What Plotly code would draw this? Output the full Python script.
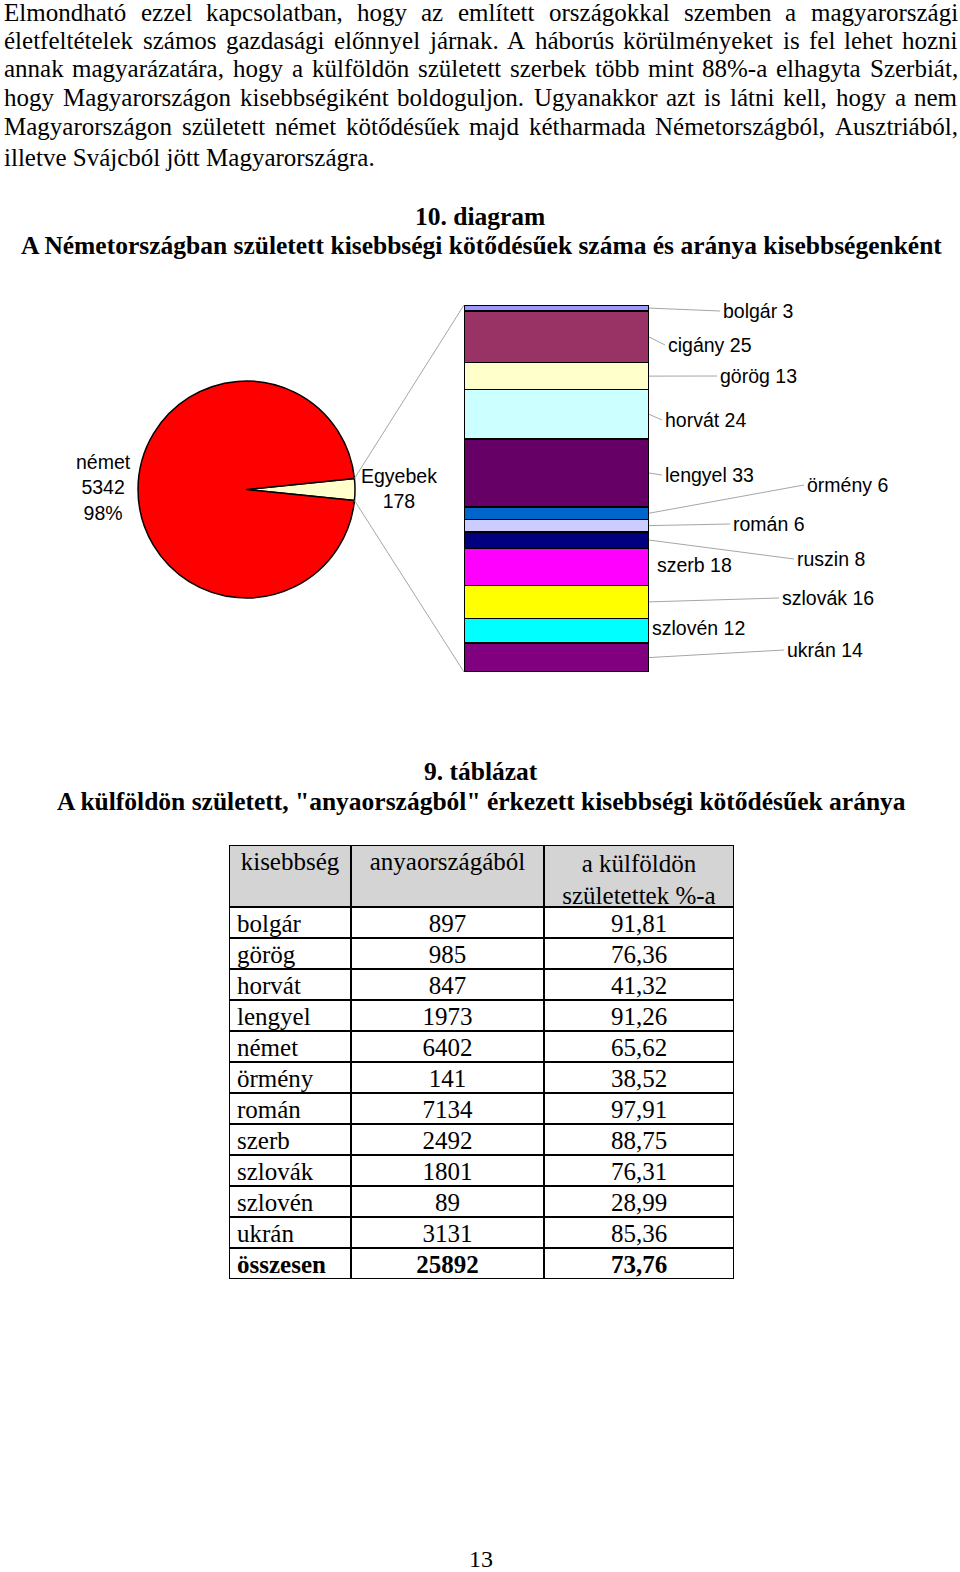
import plotly.graph_objects as go
import math

W, H = 960, 1572

# ---------------- data ----------------
paragraph_lines = [
    "Elmondható ezzel kapcsolatban, hogy az említett országokkal szemben a magyarországi",
    "életfeltételek számos gazdasági előnnyel járnak. A háborús körülményeket is fel lehet hozni",
    "annak magyarázatára, hogy a külföldön született szerbek több mint 88%-a elhagyta Szerbiát,",
    "hogy Magyarországon kisebbségiként boldoguljon. Ugyanakkor azt is látni kell, hogy a nem",
    "Magyarországon született német kötődésűek majd kétharmada Németországból, Ausztriából,",
    "illetve Svájcból jött Magyarországra.",
]
diagram_number = "10. diagram"
diagram_title = "A Németországban született kisebbségi kötődésűek száma és aránya kisebbségenként"
table_number = "9. táblázat"
table_title = 'A külföldön született, "anyaországból" érkezett kisebbségi kötődésűek aránya'
page_number = "13"

pie_labels = ["Egyebek", "német"]
pie_values = [178, 5342]
pie_pct_label = ["", "98%"]
pie_colors = ["#FFFFCC", "#FF0000"]

bar_categories = ["bolgár", "cigány", "görög", "horvát", "lengyel", "örmény",
                  "román", "ruszin", "szerb", "szlovák", "szlovén", "ukrán"]
bar_values = [3, 25, 13, 24, 33, 6, 6, 8, 18, 16, 12, 14]
bar_colors = ["#9999FF", "#993366", "#FFFFCC", "#CCFFFF", "#660066", "#0066CC",
              "#CCCCFF", "#000080", "#FF00FF", "#FFFF00", "#00FFFF", "#800080"]

table_header = ["kisebbség", "anyaországából", "a külföldön<br>születettek %-a"]
table_minority = ["bolgár", "görög", "horvát", "lengyel", "német", "örmény",
                  "román", "szerb", "szlovák", "szlovén", "ukrán"]
table_counts = [897, 985, 847, 1973, 6402, 141, 7134, 2492, 1801, 89, 3131]
table_pct = [91.81, 76.36, 41.32, 91.26, 65.62, 38.52, 97.91, 88.75, 76.31, 28.99, 85.36]
total_label = "összesen"
total_count = 25892
total_pct = 73.76

# ---------------- layout constants (pixels) ----------------
SERIF = "Liberation Serif, Times New Roman, serif"
SANS = "Liberation Sans, Arial, sans-serif"
TXT_FS = 25
BOLD_FS = 25.5
LBL_FS = 19.5

PIE_CX, PIE_CY, PIE_R = 246.5, 489.5, 108.5
BAR_L, BAR_R, BAR_T, BAR_B = 464, 649, 305, 672
TAB_L, TAB_T, TAB_B = 229, 845, 1279
col_widths = [122, 193, 190]

bar_label_x = [723, 668, 720, 665, 665, 807, 733, 797, 657, 782, 652, 787]
bar_label_y = [311, 345, 376, 420, 475, 485, 524, 559, 565, 598, 628, 650]
bar_leader = [True, True, True, True, True, True, True, True, False, True, False, True]


def px(x):
    return x / W


def py(y):
    return 1 - y / H


TIMES_W = {
    'a': 444, 'b': 500, 'c': 444, 'd': 500, 'e': 444, 'f': 333, 'g': 500, 'h': 500,
    'i': 278, 'j': 278, 'k': 500, 'l': 278, 'm': 778, 'n': 500, 'o': 500, 'p': 500,
    'q': 500, 'r': 333, 's': 389, 't': 278, 'u': 500, 'v': 500, 'w': 722, 'x': 500,
    'y': 500, 'z': 444, 'A': 722, 'B': 667, 'C': 667, 'D': 722, 'E': 611, 'F': 556,
    'G': 722, 'H': 722, 'I': 333, 'J': 389, 'K': 722, 'L': 611, 'M': 889, 'N': 722,
    'O': 722, 'P': 556, 'Q': 722, 'R': 667, 'S': 556, 'T': 611, 'U': 722, 'V': 722,
    'W': 944, 'X': 722, 'Y': 722, 'Z': 611, ' ': 250, ',': 250, '.': 250, '-': 333,
    '%': 833,
}
ACC = {'á': 'a', 'é': 'e', 'í': 'i', 'ó': 'o', 'ö': 'o', 'ő': 'o', 'ú': 'u', 'ü': 'u', 'ű': 'u'}


def text_w(s, fs):
    return sum(TIMES_W.get(ACC.get(c, c), 500) for c in s) * fs / 1000


fig = go.Figure()
annotations = []
shapes = []


def ann(text, x, y, size, family=SERIF, xanchor="center", color="black"):
    annotations.append(dict(text=text, x=px(x), y=py(y), xref="paper", yref="paper",
                            showarrow=False, xanchor=xanchor, yanchor="middle",
                            borderpad=0, borderwidth=0,
                            font=dict(family=family, size=size, color=color)))


# ---------------- paragraph (justified) ----------------
line_y = [12, 40, 69, 98, 127, 157]
X0, X1 = 4, 958
for i, line in enumerate(paragraph_lines):
    words = line.split(" ")
    if i == len(paragraph_lines) - 1:
        ann(line, X0, line_y[i], TXT_FS, xanchor="left")
        continue
    ws = [text_w(w, TXT_FS) for w in words]
    gap = (X1 - X0 - sum(ws)) / (len(words) - 1)
    x = X0
    for j, w in enumerate(words):
        if j == len(words) - 1:
            ann(w, X1, line_y[i], TXT_FS, xanchor="right")
        else:
            ann(w, x, line_y[i], TXT_FS, xanchor="left")
        x += ws[j] + gap

# ---------------- titles ----------------
ann("<b>" + diagram_number + "</b>", 480, 216, BOLD_FS)
ann("<b>" + diagram_title + "</b>", 481, 246, BOLD_FS)
ann("<b>" + table_number + "</b>", 481, 771, BOLD_FS)
ann("<b>" + table_title + "</b>", 481, 801, BOLD_FS)
ann(page_number, 481, 1559, 24)

# ---------------- pie ----------------
pie_total = sum(pie_values)
half_angle = 360 * pie_values[0] / pie_total / 2
fig.add_trace(go.Pie(
    labels=pie_labels, values=pie_values, sort=False, direction="clockwise",
    rotation=90 - half_angle, textinfo="none", showlegend=False,
    marker=dict(colors=pie_colors, line=dict(color="black", width=1.5)),
    domain=dict(x=[px(PIE_CX - PIE_R), px(PIE_CX + PIE_R)],
                y=[py(PIE_CY + PIE_R), py(PIE_CY - PIE_R)]),
))
ann(f"{pie_labels[1]}<br>{pie_values[1]}<br>{pie_pct_label[1]}", 103, 487, LBL_FS, family=SANS)
ann(f"{pie_labels[0]}<br>{pie_values[0]}", 399, 488, LBL_FS, family=SANS)

# ---------------- stacked bar ----------------
bar_total = sum(bar_values)
for cat, v, c in zip(bar_categories, bar_values, bar_colors):
    fig.add_trace(go.Bar(
        x=[0], y=[v], name=cat, width=1, showlegend=False,
        marker=dict(color=c, line=dict(color="black", width=1.5)),
        xaxis="x", yaxis="y",
    ))

# connector lines pie -> bar
a = math.radians(half_angle)
ex = PIE_CX + PIE_R * math.cos(a)
ey_top = PIE_CY - PIE_R * math.sin(a)
ey_bot = PIE_CY + PIE_R * math.sin(a)
for (sy, ty) in [(ey_top, BAR_T), (ey_bot, BAR_B)]:
    shapes.append(dict(type="line", xref="paper", yref="paper",
                       x0=px(ex), y0=py(sy), x1=px(BAR_L), y1=py(ty),
                       line=dict(color="#A6A6A6", width=1)))

# bar labels + leader lines
cum = 0
for i, (cat, v) in enumerate(zip(bar_categories, bar_values)):
    mid = BAR_T + (cum + v / 2) / bar_total * (BAR_B - BAR_T)
    cum += v
    ann(f"{cat} {v}", bar_label_x[i], bar_label_y[i], LBL_FS, family=SANS, xanchor="left")
    if bar_leader[i]:
        shapes.append(dict(type="line", xref="paper", yref="paper",
                           x0=px(BAR_R), y0=py(mid), x1=px(bar_label_x[i] - 3), y1=py(bar_label_y[i]),
                           line=dict(color="#A6A6A6", width=1)))

# ---------------- table ----------------
n_rows = len(table_minority) + 1
header_units = 2
tab_w = sum(col_widths)
edges = [0]
for cw in col_widths:
    edges.append(edges[-1] + cw)
tot_units = header_units + n_rows
TXT_DY = 0.1  # small downward nudge of the text inside cells

shapes.append(dict(type="rect", xref="x2", yref="y2", x0=0, x1=tab_w, y0=0, y1=header_units,
                   fillcolor="#D4D4D4", line=dict(width=0), layer="below"))
for r in [0] + list(range(header_units, tot_units + 1)):
    shapes.append(dict(type="line", xref="x2", yref="y2", x0=0, x1=tab_w, y0=r, y1=r,
                       line=dict(color="black", width=2)))
for e in edges:
    shapes.append(dict(type="line", xref="x2", yref="y2", x0=e, x1=e, y0=0, y1=tot_units,
                       line=dict(color="black", width=2)))

# header
hx = [(edges[k] + edges[k + 1]) / 2 for k in range(3)]
hy = [(1.08 if "<br>" in h else 0.5) + TXT_DY for h in table_header]
fig.add_trace(go.Scatter(x=hx, y=hy, text=table_header, mode="text", textposition="middle center",
                         textfont=dict(family=SERIF, size=TXT_FS, color="black"),
                         xaxis="x2", yaxis="y2", showlegend=False, cliponaxis=False, hoverinfo="skip"))

names = table_minority + ["<b>" + total_label + "</b>"]
counts = [str(c) for c in table_counts] + ["<b>" + str(total_count) + "</b>"]
pcts = [f"{p:.2f}".replace(".", ",") for p in table_pct] + \
       ["<b>" + f"{total_pct:.2f}".replace(".", ",") + "</b>"]
row_y = [header_units + i + 0.5 + TXT_DY for i in range(n_rows)]

fig.add_trace(go.Scatter(x=[8] * n_rows, y=row_y, text=names, mode="text", textposition="middle right",
                         textfont=dict(family=SERIF, size=TXT_FS, color="black"),
                         xaxis="x2", yaxis="y2", showlegend=False, cliponaxis=False, hoverinfo="skip"))
fig.add_trace(go.Scatter(x=[hx[1]] * n_rows, y=row_y, text=counts, mode="text", textposition="middle center",
                         textfont=dict(family=SERIF, size=TXT_FS, color="black"),
                         xaxis="x2", yaxis="y2", showlegend=False, cliponaxis=False, hoverinfo="skip"))
fig.add_trace(go.Scatter(x=[hx[2]] * n_rows, y=row_y, text=pcts, mode="text", textposition="middle center",
                         textfont=dict(family=SERIF, size=TXT_FS, color="black"),
                         xaxis="x2", yaxis="y2", showlegend=False, cliponaxis=False, hoverinfo="skip"))

fig.update_layout(
    width=W, height=H, margin=dict(l=0, r=0, t=0, b=0),
    paper_bgcolor="white", plot_bgcolor="rgba(0,0,0,0)",
    barmode="stack", showlegend=False,
    xaxis=dict(domain=[px(BAR_L), px(BAR_R)], range=[-0.5, 0.5], visible=False, fixedrange=True),
    yaxis=dict(domain=[py(BAR_B), py(BAR_T)], range=[bar_total, 0], visible=False, fixedrange=True),
    xaxis2=dict(domain=[px(TAB_L), px(TAB_L + tab_w)], range=[0, tab_w], visible=False, anchor="y2"),
    yaxis2=dict(domain=[py(TAB_B), py(TAB_T)], range=[tot_units, 0], visible=False, anchor="x2"),
    annotations=annotations, shapes=shapes,
)

fig.write_html("out.html")
